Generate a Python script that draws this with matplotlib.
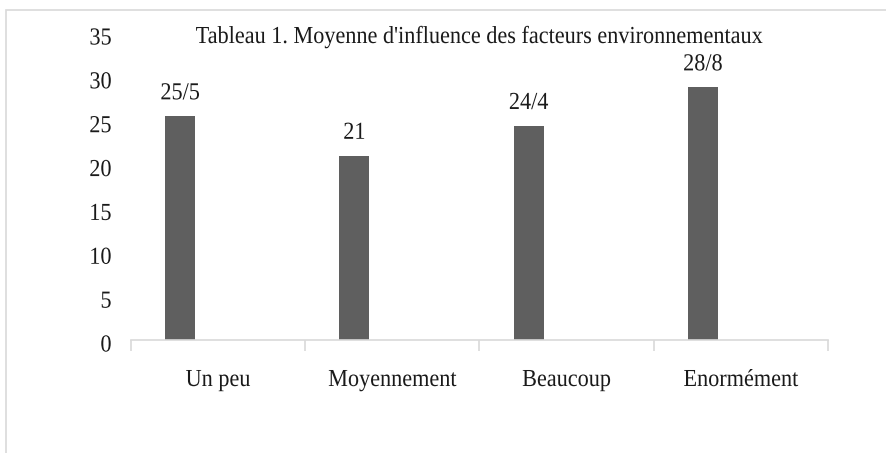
import matplotlib
matplotlib.use("Agg")
import matplotlib.pyplot as plt
from matplotlib.patches import Rectangle
from matplotlib.patheffects import AbstractPathEffect
from matplotlib.transforms import Affine2D, ScaledTranslation

categories = ["Un peu", "Moyennement", "Beaucoup", "Enormément"]
values = [25.5, 21, 24.4, 28.8]
value_labels = ["25/5", "21", "24/4", "28/8"]
title = "Tableau 1. Moyenne d'influence des facteurs environnementaux"
yticks = [0, 5, 10, 15, 20, 25, 30, 35]


class Stretch(AbstractPathEffect):
    """Stretch glyphs vertically about their baseline."""
    def __init__(self, sy):
        super().__init__()
        self.sy = sy

    def draw_path(self, renderer, gc, tpath, affine, rgbFace=None):
        renderer.draw_path(gc, tpath, Affine2D().scale(1, self.sy) + affine, rgbFace)


ST = [Stretch(1.1)]
TXT = '#1a1a1a'
plt.rcParams['font.family'] = ['Liberation Serif', 'DejaVu Serif']
W, H = 887, 453
fig = plt.figure(figsize=(W/100, H/100), dpi=100)
fig.patches.append(Rectangle((6/W, -0.1), 2, (H-10)/H + 0.1, transform=fig.transFigure,
                             fill=False, edgecolor='#d9d9d9', linewidth=1.2))

ax = fig.add_axes([131/W, 113/H, (828-131)/W, 307/H])
x = list(range(len(categories)))
bx = [i - 0.218 for i in x]
ax.bar(bx, values, width=0.172, color='#5f5f5f')
for xi, v, lab in zip(bx, values, value_labels):
    ax.annotate(lab, (xi, v), xytext=(0, 17*0.72), textcoords='offset points',
                ha='center', va='baseline', fontsize=16, color=TXT, path_effects=ST)

for xi, cat in zip(x, categories):
    ax.annotate(cat, (xi, 0), xycoords=('data', 'axes fraction'),
                xytext=(0, -46*0.72), textcoords='offset points',
                ha='center', va='baseline', fontsize=16, color=TXT, path_effects=ST)

ax.set_xlim(-0.5, 3.5)
ax.set_ylim(0, 35)
ax.set_yticks(yticks)
ax.set_yticklabels([str(t) for t in yticks], fontsize=16, color=TXT)
ax.tick_params(axis='y', length=0, pad=14)
off = ScaledTranslation(0, -11.5/100, fig.dpi_scale_trans)
for lbl in ax.get_yticklabels():
    lbl.set_va('baseline')
    lbl.set_transform(lbl.get_transform() + off)
    lbl.set_path_effects(ST)
ax.set_xticks([-0.5, 0.5, 1.5, 2.5, 3.5])
ax.set_xticklabels([])
ax.tick_params(axis='x', which='major', length=8, color='#d9d9d9', width=1.2)
for s in ['top', 'right', 'left']:
    ax.spines[s].set_visible(False)
ax.spines['bottom'].set_color('#d9d9d9')
ax.spines['bottom'].set_linewidth(1.2)
t = ax.set_title(title, fontsize=16, y=1.0, pad=-10*0.72, va='baseline', color=TXT)
t.set_path_effects(ST)

fig.savefig("out.png", dpi=100)
